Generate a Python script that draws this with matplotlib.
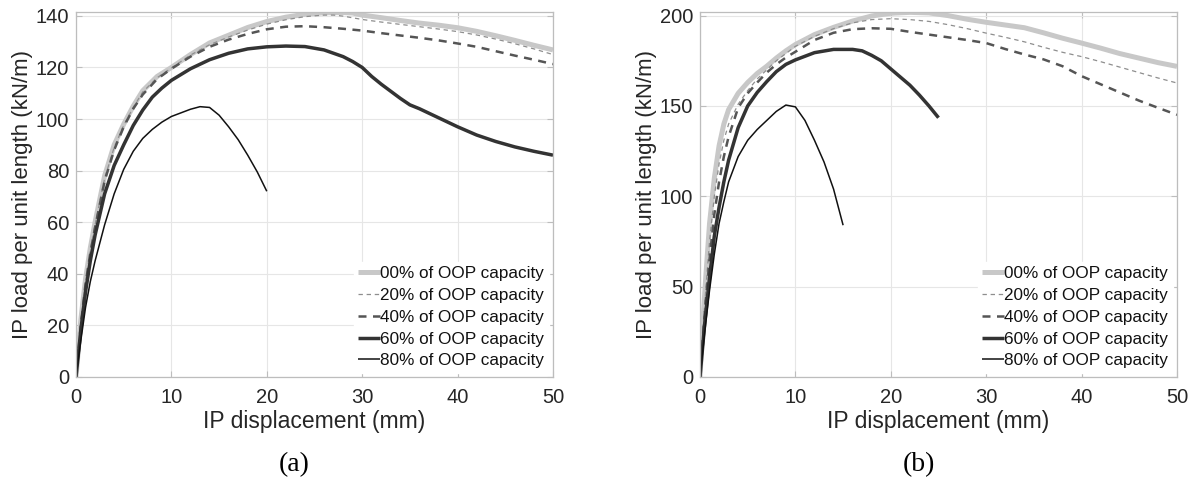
import matplotlib
matplotlib.use("Agg")
import matplotlib.pyplot as plt

# ---- (a) IP load vs IP displacement ----
a_x00 = [0, 0.5, 1, 1.5, 2, 3, 4, 5, 6, 7, 8.5, 10, 12, 14, 16, 18, 20, 22, 24, 26, 28, 29, 30, 32, 34, 36, 38, 40, 42, 44, 46, 48, 50]
a_y00 = [0, 22, 38, 50, 60, 78, 90, 98, 105, 111, 116.5, 120, 125, 129.5, 132.5, 135.5, 137.8, 139.5, 140.6, 141.2, 141.3, 141.1, 140.3, 139.3, 138.2, 137.2, 136.4, 135.4, 134, 132.3, 130.5, 128.6, 126.8]
a_x20 = [0, 0.5, 1, 1.5, 2, 3, 4, 5, 6, 7, 8.5, 10, 12, 14, 16, 18, 20, 22, 24, 26, 27, 28, 30, 32, 34, 36, 38, 40, 42, 44, 46, 48, 50]
a_y20 = [0, 21, 37, 49, 59, 77, 89, 97.5, 104.5, 110.5, 116, 119.8, 124.8, 128.8, 131.8, 134.5, 136.8, 138.5, 139.7, 140.3, 140.3, 139.9, 138.6, 137.6, 136.7, 135.8, 134.9, 133.9, 132.6, 131, 129.2, 127.2, 125]
a_x40 = [0, 0.5, 1, 1.5, 2, 3, 4, 5, 6, 7, 8.5, 10, 12, 14, 16, 18, 20, 22, 24, 26, 28, 30, 32, 34, 36, 38, 40, 42, 44, 46, 48, 50]
a_y40 = [0, 20, 36, 48, 58, 76, 88, 97, 104, 109.5, 115.5, 119.5, 124.2, 128, 130.8, 133, 134.8, 135.8, 136, 135.6, 135, 134.3, 133.3, 132.4, 131.5, 130.5, 129.3, 128, 126.3, 124.6, 123, 121.3]
a_x60 = [0, 0.5, 1, 1.5, 2, 3, 4, 5, 6, 7, 8, 9, 10, 12, 14, 16, 18, 20, 22, 24, 26, 28, 29, 30, 31, 32, 34, 35, 36, 38, 40, 42, 44, 46, 48, 50]
a_y60 = [0, 18, 33, 45, 55, 71, 82, 90, 97.5, 103.5, 108.5, 112, 115, 119.5, 123, 125.5, 127.2, 128, 128.3, 128.1, 126.8, 124.2, 122.3, 120, 116.5, 113.5, 108, 105.5, 104, 100.5, 97, 93.8, 91.3, 89.2, 87.5, 86]
a_x80 = [0, 0.5, 1, 1.5, 2, 3, 4, 5, 6, 7, 8, 9, 10, 12, 13, 14, 15, 16, 17, 18, 19, 20]
a_y80 = [0, 14, 27, 37, 45, 59, 71, 80.5, 87.5, 92.5, 96, 98.8, 101, 103.8, 104.8, 104.5, 101.5, 97, 92, 86, 79.5, 72]

# ---- (b) IP load vs IP displacement ----
b_x00 = [0, 0.3, 0.6, 1, 1.5, 2, 2.5, 3, 4, 5, 6, 7, 8, 9, 10, 12, 14, 16, 18, 20, 22, 24, 26, 28, 30, 32, 34, 36, 38, 40, 42, 44, 46, 48, 50]
b_y00 = [0, 30, 55, 85, 110, 128, 140, 148, 157, 163, 168, 172, 176.5, 180.5, 184, 189.5, 193.5, 197, 199.8, 201.3, 201.8, 201.5, 200, 198, 196.3, 194.8, 193.3, 190.5, 187.5, 184.8, 182, 179, 176.5, 174, 171.9]
b_x20 = [0, 0.3, 0.6, 1, 1.5, 2, 2.5, 3, 4, 5, 6, 7, 8, 9, 10, 12, 14, 16, 18, 20, 22, 24, 26, 28, 30, 32, 34, 36, 38, 40, 42, 44, 46, 48, 50]
b_y20 = [0, 25, 48, 75, 100, 118, 131, 140, 151, 158.5, 165, 170, 175, 179, 183, 188.5, 192.8, 196, 197.8, 198.3, 197.8, 196.8, 195, 192.8, 190.3, 188, 185.5, 182.5, 179.7, 177.3, 174.5, 171.5, 168.5, 165.5, 162.7]
b_x40 = [0, 0.3, 0.6, 1, 1.5, 2, 2.5, 3, 4, 5, 6, 7, 8, 9, 10, 12, 14, 16, 18, 20, 22, 24, 26, 28, 30, 32, 34, 36, 38, 40, 42, 44, 46, 48, 50]
b_y40 = [0, 22, 42, 65, 90, 108, 122, 133, 149, 157, 163, 168.5, 173, 176.8, 180, 186.5, 190.5, 192.5, 193, 192.7, 191, 189.5, 188, 186.5, 184.8, 181.5, 178.5, 175.8, 172, 166.5, 162, 157.5, 153, 149, 145.1]
b_x60 = [0, 0.5, 1, 1.5, 2, 2.5, 3, 4, 5, 6, 7, 8, 9, 10, 12, 14, 16, 17, 18, 19, 20, 21, 22, 23, 24, 25]
b_y60 = [0, 30, 55, 78, 94, 108, 120, 138, 150, 157.5, 163.5, 169, 173, 175.5, 179.5, 181.3, 181.3, 180.5, 178, 175, 170.5, 166, 161.5, 156, 150, 143.5]
b_x80 = [0, 0.5, 1, 1.5, 2, 2.5, 3, 4, 5, 6, 7, 8, 9, 10, 11, 12, 13, 14, 15]
b_y80 = [0, 25, 48, 68, 85, 97, 108, 122, 131, 137, 142, 147, 150.5, 149.5, 142, 131, 119, 104, 84]

labels = ["00% of OOP capacity", "20% of OOP capacity", "40% of OOP capacity",
          "60% of OOP capacity", "80% of OOP capacity"]

styles = [
    dict(color="#c8c8c8", lw=3.6, ls="-"),
    dict(color="#8e8e8e", lw=0.9, dashes=(3.5, 3)),
    dict(color="#555555", lw=1.8, dashes=(3.2, 2.6)),
    dict(color="#333333", lw=2.5, ls="-"),
    dict(color="#111111", lw=1.1, ls="-"),
]

plt.rcParams["font.family"] = ["Liberation Sans", "DejaVu Sans"]
txt = "#262626"
W, H = 1193, 487

fig = plt.figure(figsize=(W / 100, H / 100), dpi=100)
ax_a = fig.add_axes([76 / W, 1 - 377 / H, 477 / W, 365 / H])
ax_b = fig.add_axes([700 / W, 1 - 377 / H, 477 / W, 365 / H])

panels = [
    (ax_a, [(a_x00, a_y00), (a_x20, a_y20), (a_x40, a_y40), (a_x60, a_y60), (a_x80, a_y80)],
     141.5, list(range(0, 141, 20)), "(a)", 294),
    (ax_b, [(b_x00, b_y00), (b_x20, b_y20), (b_x40, b_y40), (b_x60, b_y60), (b_x80, b_y80)],
     202, list(range(0, 201, 50)), "(b)", 919),
]

for ax, series, ytop, yticks, tag, tag_x in panels:
    for (xs, ys), st, lab in zip(series, styles, labels):
        ax.plot(xs, ys, label=lab, solid_capstyle="butt", **st)
    ax.set_xlim(0, 50)
    ax.set_ylim(0, ytop)
    ax.set_xticks(range(0, 51, 10))
    ax.set_yticks(yticks)
    ax.grid(True, color="#e6e6e6", lw=0.8)
    ax.set_axisbelow(True)
    for sp in ax.spines.values():
        sp.set_color("#bdbdbd")
        sp.set_linewidth(0.9)
    ax.tick_params(direction="in", length=4, width=0.8, color="#bdbdbd",
                   top=True, right=True, labelsize=14.5, labelcolor=txt)
    ax.tick_params(axis="x", pad=8)
    ax.tick_params(axis="y", pad=5)
    ax.set_xlabel("IP displacement (mm)", fontsize=16.5, color=txt, labelpad=2)
    ax.set_ylabel("IP load per unit length (kN/m)", fontsize=16, color=txt, labelpad=2)
    leg = ax.legend(loc="lower right", bbox_to_anchor=(1.0, 0.0), fontsize=12.3,
                    frameon=True, fancybox=False, edgecolor="white", facecolor="white",
                    framealpha=1, handlelength=1.3, handletextpad=0.02,
                    labelspacing=0.4, borderaxespad=0.25, borderpad=0.25)
    for t in leg.get_texts():
        t.set_color("#111111")
    fig.text(tag_x / W, 1 - 465 / H, tag, ha="center", va="center",
             fontsize=20, family=["Liberation Serif", "DejaVu Serif"], color="black")

fig.savefig("out.png", dpi=100, facecolor="white")
